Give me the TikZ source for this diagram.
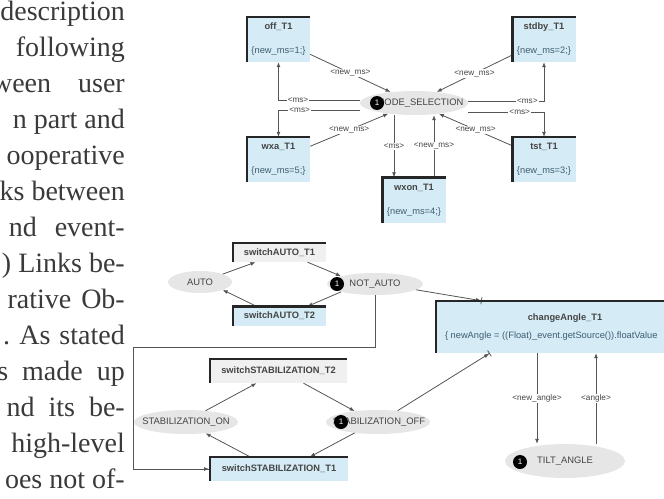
\documentclass[tikz,border=0pt]{standalone}
\usepackage{fontspec}
\setmainfont{Liberation Serif}
\newfontfamily\diagfont{Liberation Sans}
\usetikzlibrary{shapes.geometric,arrows.meta}

\definecolor{boxblue}{HTML}{D5ECF6}
\definecolor{boxgray}{HTML}{F0F0F0}
\definecolor{placegray}{HTML}{E6E6E6}
\definecolor{linegray}{HTML}{555555}
\definecolor{txtgray}{HTML}{444444}
\definecolor{codeblue}{HTML}{3F5D70}
\definecolor{pagetext}{HTML}{3A3A3A}

\newcommand{\chan}[1]{\textless#1\textgreater}

\begin{document}
\begin{tikzpicture}[x=1pt,y=-1pt,
    col/.style={font=\fontsize{28}{36}\selectfont,text=pagetext,inner sep=0pt},
    place/.style={ellipse,fill=placegray,inner sep=0pt,text=txtgray,
      font=\diagfont\fontsize{9.4}{10}\selectfont},
    trans/.style={rectangle,fill=boxblue,inner sep=0pt,text=txtgray,
      font=\diagfont\fontsize{9.3}{10}\selectfont},
    token/.style={circle,fill=black,inner sep=0pt,minimum size=14pt,text=white,
      font=\diagfont\fontsize{8}{8}\selectfont},
    link/.style={draw=linegray,line width=0.8pt,-{Latex[length=5pt,width=4pt]}},
    tee/.style={link,-{Latex[length=5pt,width=4pt]Bar[width=7pt]}},
    lbl/.style={fill=white,inner sep=1pt,text=txtgray,
      font=\diagfont\fontsize{8.2}{9}\selectfont}]
  \useasboundingbox (0,0) rectangle (664,498);
  \clip (0,0) rectangle (664,498);

  % text column of the page
  \foreach \i/\t in {0/description,1/following,2/ween\hspace{27pt}user,3/n part and,
      4/ooperative,5/ks between,6/nd\hspace{18pt}event-,7/) Links be-,
      8/rative\hspace{10pt}Ob-,9/. As\hspace{9pt}stated,10/s\hspace{14pt}made\hspace{14pt}up,
      11/nd\hspace{14pt}its\hspace{14pt}be-,12/high-level,13/oes not of-}
    \node[col,anchor=base east] (line\i) at (125,{20+36*\i}) {\t};

  % MODE_SELECTION
  \foreach \n/\t/\v/\x/\y in {off/off/1/278.5/39.5,stdby/stdby/2/544/39.5,
      wxa/wxa/5/278.5/159.5,tst/tst/3/544/159.5,wxon/wxon/4/414/200}
    \node[trans,minimum width=63pt,minimum height=45pt,align=center] (\n) at (\x,\y)
      {\textbf{\t\_T1}\\[14pt]{\color{codeblue}\{new\_ms=\v;\}}};
  \node[place,minimum width=108pt,minimum height=24pt] (mode) at (414,103)
    {\makebox[0pt]{\hspace{12pt}MODE\_SELECTION}};
  \node[token] (tok1) at (377,103) {1};

  \draw[link] (off) -- node[lbl]{\chan{new\_ms}} (mode);
  \draw[link] (stdby) -- node[lbl]{\chan{new\_ms}} (mode);
  \draw[link] (wxa) -- node[lbl]{\chan{new\_ms}} (mode);
  \draw[link] (tst) -- node[lbl]{\chan{new\_ms}} (mode);
  \draw[link] ([yshift=3pt]mode.west) -| node[lbl,pos=.38]{\chan{ms}} (off.south);
  \draw[link] ([yshift=-7pt]mode.west) -| node[lbl,pos=.37]{\chan{ms}} (wxa.north);
  \draw[link] ([yshift=2pt]mode.east) -| node[lbl,pos=.39]{\chan{ms}} (stdby.south);
  \draw[link] ([yshift=-9pt]mode.east) -| node[lbl,pos=.34]{\chan{ms}} (tst.north);
  \draw[link] ([xshift=-20pt]mode.south) -- node[lbl]{\chan{ms}} ([xshift=-20pt]wxon.north);
  \draw[link] ([xshift=20pt]wxon.north) -- node[lbl]{\chan{new\_ms}} ([xshift=20pt]mode.south);

  % AUTO
  \node[place,minimum width=64pt,minimum height=22pt] (auto) at (200,282) {\makebox[0pt]{AUTO}};
  \node[place,minimum width=96pt,minimum height=22pt] (notauto) at (375,284)
    {\makebox[0pt]{NOT\_AUTO}};
  \node[token] (tok2) at (337,284) {1};
  \node[trans,fill=boxgray,minimum width=93pt,minimum height=19pt] (sat1) at (279.5,252.5)
    {\textbf{switchAUTO\_T1}};
  \node[trans,minimum width=93pt,minimum height=19pt] (sat2) at (279.5,316)
    {\textbf{switchAUTO\_T2}};

  \draw[link] (auto.north east) -- ([xshift=-24pt]sat1.south);
  \draw[link] ([xshift=28pt]sat1.south) -- (notauto.north west);
  \draw[link] (notauto.south west) -- ([xshift=28pt]sat2.north);
  \draw[link] ([xshift=-23pt]sat2.north) -- (auto.south east);

  % changeAngle and TILT_ANGLE
  \node[trans,inner xsep=9pt,minimum height=52pt,align=center] (change) at (565,327)
    {\textbf{changeAngle\_T1}\\[8pt]\makebox[240pt][l]{\color{codeblue}\{ newAngle = ((Float)\_event.getSource()).floatValue}};
  \node[place,minimum width=120pt,minimum height=34pt] (tilt) at (565,461)
    {\makebox[0pt]{TILT\_ANGLE}};
  \node[token] (tok4) at (520,462) {1};

  \draw[link] ([xshift=-28pt]change.south) -- node[lbl]{\chan{new\_angle}} ([xshift=-28pt]tilt.north);
  \draw[link] ([xshift=31pt]tilt.north) -- node[lbl]{\chan{angle}} ([xshift=31pt]change.south);
  \draw[tee] (notauto.-8) -- ([xshift=46pt]change.north west);

  % STABILIZATION
  \node[place,minimum width=104pt,minimum height=24pt] (son) at (186,422)
    {\makebox[0pt]{STABILIZATION\_ON}};
  \node[place,minimum width=104pt,minimum height=24pt] (soff) at (378,422)
    {\makebox[0pt]{\hspace{2pt}STABILIZATION\_OFF}};
  \node[token] (tok3) at (341,422) {1};
  \node[trans,fill=boxgray,minimum width=137pt,minimum height=24pt] (sst2) at (278.5,371)
    {\textbf{switchSTABILIZATION\_T2}};
  \node[trans,minimum width=138pt,minimum height=24pt] (sst1) at (279,469)
    {\textbf{switchSTABILIZATION\_T1}};

  \draw[link] (son.30) -- ([xshift=-22pt]sst2.south);
  \draw[link] ([xshift=25pt]sst2.south) -- (soff.155);
  \draw[link] (soff.205) -- ([xshift=31pt]sst1.north);
  \draw[link] ([xshift=-29pt]sst1.north) -- (son.-30);
  \draw[tee] (soff.30) -- ([xshift=54pt]change.south west);

  \coordinate (elbow) at (133,347);
  \draw[tee] (notauto.south) |- (elbow) |- (sst1.west);

  % heavy top and left edges of the transitions
  \foreach \n in {off,stdby,wxa,tst,wxon,sat1,sat2,change,sst1,sst2}
    \draw[line width=2.5pt,black!85] (\n.south west) -- (\n.north west) -- (\n.north east);
\end{tikzpicture}
\end{document}
